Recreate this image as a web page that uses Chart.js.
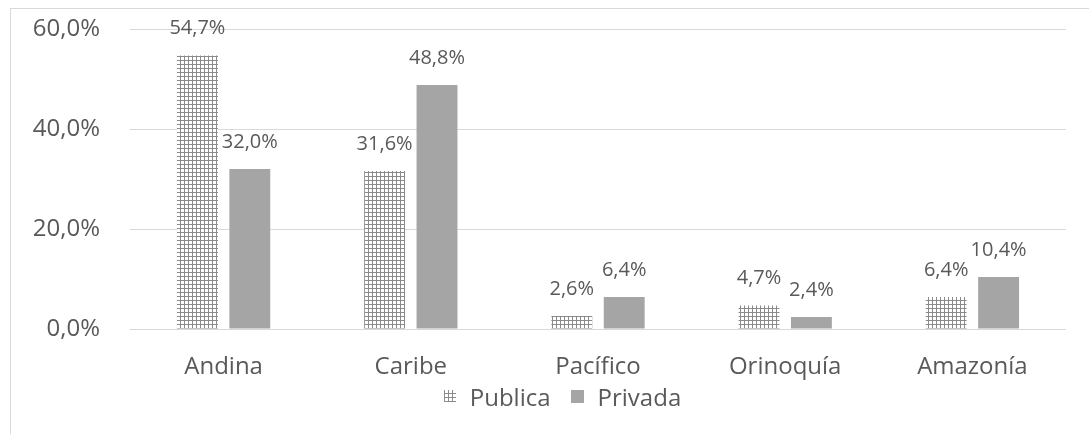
<!DOCTYPE html>
<html><head><meta charset="utf-8">
<script src="https://cdn.jsdelivr.net/npm/chart.js@4.4.0/dist/chart.umd.min.js"></script>
<style>
html,body{margin:0;padding:0;background:#fff;overflow:hidden}
#frame{position:absolute;left:10px;top:8px;width:1100px;height:460px;border:1px solid #d9d9d9;box-sizing:border-box}
#wrap{position:absolute;left:0;top:0;width:1089px;height:434px}
#legend{position:absolute;left:0;top:381px;width:1089px;height:30px;display:flex;justify-content:center;align-items:center;
  font-family:"Open Sans","DejaVu Sans",sans-serif;font-size:24px;color:#595959;padding-left:36px;box-sizing:border-box}
.item{display:flex;align-items:center;margin:0 10px}
.box{width:12px;height:12px;margin-right:14px}
.pub{background-color:#fff;background-image:repeating-linear-gradient(0deg,#8a8a8a 0 1px,transparent 1px 4px),repeating-linear-gradient(90deg,#8a8a8a 0 1px,transparent 1px 4px)}
.pri{background:#a5a5a5;width:13px;height:13px}
</style></head>
<body>
<div id="frame"></div>
<div id="wrap"><canvas id="c" width="1089" height="434"></canvas></div>
<div id="legend"></div>
<script>
const categories = ['Andina', 'Caribe', 'Pacífico', 'Orinoquía', 'Amazonía'];
const publica = [54.7, 31.6, 2.6, 4.7, 6.4];
const privada = [32.0, 48.8, 6.4, 2.4, 10.4];
const seriesNames = ['Publica', 'Privada'];
const yTicks = [0, 20, 40, 60];

function makePattern(){
  const t = document.createElement('canvas');
  t.width = 4; t.height = 4;
  const g = t.getContext('2d');
  g.fillStyle = '#ffffff'; g.fillRect(0,0,4,4);
  g.fillStyle = '#8a8a8a';
  g.fillRect(0,0,4,1);
  g.fillRect(0,0,1,4);
  return g.createPattern(t,'repeat');
}
const pat = makePattern();
const fmt = v => v.toFixed(1).replace('.', ',') + '%';
const FONT = '"Open Sans", "DejaVu Sans", sans-serif';

const labelPlugin = {
  id:'vals',
  afterDatasetsDraw(chart){
    const ctx = chart.ctx;
    ctx.save();
    ctx.font = '20px ' + FONT;
    ctx.fillStyle = '#595959';
    ctx.textAlign = 'center';
    ctx.textBaseline = 'middle';
    chart.data.datasets.forEach((ds, i) => {
      chart.getDatasetMeta(i).data.forEach((bar, j) => {
        ctx.fillText(fmt(ds.data[j]), bar.x, bar.y - 27);
      });
    });
    ctx.restore();
  }
};

const chart = new Chart(document.getElementById('c'), {
  type:'bar',
  data:{
    labels: categories,
    datasets:[
      {label: seriesNames[0], data: publica, backgroundColor: pat, borderWidth:0},
      {label: seriesNames[1], data: privada, backgroundColor: '#a5a5a5', borderWidth:0}
    ]
  },
  options:{
    responsive:false,
    animation:false,
    devicePixelRatio:1,
    categoryPercentage:0.56,
    barPercentage:0.78,
    layout:{padding:{top:29, right:23, left:0, bottom:53}},
    plugins:{
      legend:{display:false},
      tooltip:{enabled:false}
    },
    scales:{
      x:{
        grid:{display:false, drawTicks:false},
        border:{display:false},
        ticks:{font:{family:FONT, size:24}, color:'#595959', padding:24},
        afterFit(s){ s.height = 52; s.paddingLeft = 0; s.paddingRight = 0; }
      },
      y:{
        min:0, max:60,
        afterBuildTicks(s){ s.ticks = yTicks.map(v=>({value:v})); },
        grid:{color:'#d9d9d9', drawTicks:false, lineWidth:1},
        border:{display:false},
        ticks:{font:{family:FONT, size:24}, color:'#595959', padding:30, callback:v=>fmt(v)},
        afterFit(s){ s.width = 130; s.paddingTop = 0; s.paddingBottom = 0; }
      }
    }
  },
  plugins:[labelPlugin]
});

const leg = document.getElementById('legend');
chart.data.datasets.forEach((ds, i) => {
  const it = document.createElement('div'); it.className = 'item';
  const b = document.createElement('span'); b.className = 'box ' + (i === 0 ? 'pub' : 'pri');
  const t = document.createElement('span'); t.textContent = ds.label;
  it.appendChild(b); it.appendChild(t); leg.appendChild(it);
});
</script>
</body></html>
